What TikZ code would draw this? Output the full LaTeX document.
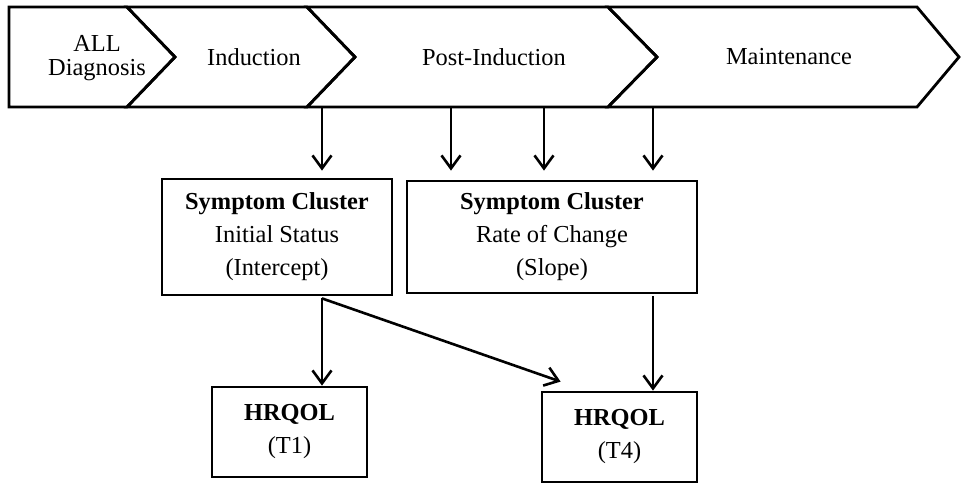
\documentclass[tikz,border=0pt]{standalone}
\usepackage{fontspec}
\setmainfont{Liberation Serif}
\usetikzlibrary{arrows.meta,positioning,calc}

\begin{document}
\begin{tikzpicture}[x=0.5pt, y=-0.5pt]
  % Estilos
  \tikzstyle{phase}=[draw=black, line width=1.4pt, line join=miter]
  \tikzstyle{label}=[align=center, font=\fontsize{12.2}{12}\selectfont]
  \tikzstyle{block}=[rectangle, draw=black, line width=1.4pt, align=center, inner sep=0pt, font=\fontsize{12.2}{16.5}\selectfont]
  \tikzstyle{link}=[-{Straight Barb[length=6.5pt, width=9.5pt, line width=1.3pt]}, line width=1.3pt]

  \useasboundingbox (0,0) rectangle (963,483);

  % Fases del tratamiento (chevrons)
  \draw[phase] (9,7) -- (127,7) -- (175,57) -- (127,107) -- (9,107) -- cycle;
  \draw[phase] (127,7) -- (307,7) -- (355,57) -- (307,107) -- (127,107) -- (175,57) -- cycle;
  \draw[phase] (307,7) -- (608,7) -- (657,57) -- (608,107) -- (307,107) -- (355,57) -- cycle;
  \draw[phase] (608,7) -- (917,7) -- (959,57) -- (917,107) -- (608,107) -- (657,57) -- cycle;

  \node[label] (diag) at (97,58) {ALL\\Diagnosis};
  \node[label] (ind) at (254,57) {Induction};
  \node[label] (post) at (494,57) {Post-Induction};
  \node[label] (maint) at (789,57) {Maintenance};

  % Puntos de salida en la barra
  \coordinate (q1) at (322,108);
  \coordinate (q2) at (451,108);
  \coordinate (q3) at (544,108);
  \coordinate (q4) at (653,108);

  % Cajas
  \node[block, minimum width=115pt, minimum height=58pt] (sc1) at (277,237)
    {\textbf{Symptom Cluster}\\Initial Status\\(Intercept)};
  \node[block, minimum width=145pt, minimum height=56pt] (sc2) at (552,237)
    {\textbf{Symptom Cluster}\\Rate of Change\\(Slope)};
  \node[block, minimum width=77.5pt, minimum height=45pt] (hq1) at (289.5,432)
    {\textbf{HRQOL}\\(T1)};
  \node[block, minimum width=77.5pt, minimum height=45pt] (hq2) at (619.5,437)
    {\textbf{HRQOL}\\(T4)};

  % Flechas desde las fases
  \draw[link, shorten >=3.5pt] (q1) -- (q1 |- sc1.north);
  \draw[link, shorten >=4.5pt] (q2) -- (q2 |- sc2.north);
  \draw[link, shorten >=4.5pt] (q3) -- (q3 |- sc2.north);
  \draw[link, shorten >=4.5pt] (q4) -- (q4 |- sc2.north);

  % Efectos sobre HRQOL
  \coordinate (r1) at ($(sc1.south)+(45,2)$);
  \coordinate (r2) at ($(sc2.south)+(101,2)$);
  \coordinate (t4in) at ($(hq2.north west)+(20,-9)$);
  \draw[link] (r1) -- (r1 |- hq1.north);
  \draw[link] (r1) -- (t4in);
  \draw[link] (r2) -- (r2 |- hq2.north);
\end{tikzpicture}
\end{document}
